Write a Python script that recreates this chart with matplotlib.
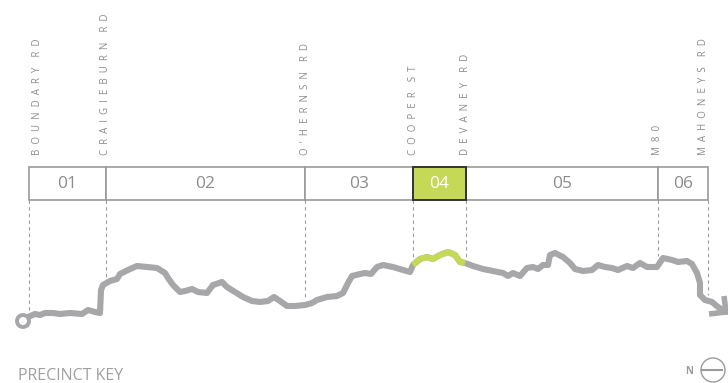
import matplotlib.pyplot as plt
from matplotlib.patches import Rectangle, Circle

# road names and their position along the corridor (pixels)
roads = ["BOUNDARY RD", "CRAIGIEBURN RD", "O'HERNSN RD", "COOPER ST",
         "DEVANEY RD", "M80", "MAHONEYS RD"]
road_x = [29, 106, 305, 413, 466, 658, 708]
dash_end = [314, 279, 299, 258, 258, 256, 295]

precincts = ["01", "02", "03", "04", "05", "06"]
active = "04"

# route trace
route_x = [28, 35, 40, 45, 53, 60, 70, 82, 88, 95, 100, 101, 103, 110, 117, 120,
           128, 137, 147, 157, 165, 168, 173, 180, 185, 192, 198, 207, 213, 222,
           227, 235, 243, 252, 260, 268, 274, 280, 287, 295, 305, 312, 317, 327,
           337, 343, 348, 352, 360, 365, 371, 377, 383, 393, 403, 410, 413, 420,
           427, 433, 440, 448, 455, 460, 465, 473, 483, 493, 503, 508, 513, 520,
           527, 533, 538, 543, 548, 550, 555, 563, 570, 575, 583, 592, 598, 605,
           612, 618, 627, 633, 640, 647, 657, 663, 672, 678, 687, 692, 697, 700,
           700, 705, 712, 718, 726]
route_y = [317, 314, 315, 313, 313, 314, 313, 314, 310, 312, 313, 290, 285, 281,
           279, 274, 270, 266, 267, 268, 273, 278, 285, 292, 291, 289, 292, 293,
           285, 282, 287, 292, 297, 301, 302, 301, 297, 301, 306, 306, 305, 303,
           300, 297, 296, 293, 283, 276, 274, 273, 274, 267, 265, 267, 270, 272,
           265, 259, 257, 259, 255, 252, 255, 262, 263, 266, 269, 271, 273, 276,
           273, 276, 268, 267, 269, 265, 265, 255, 253, 257, 263, 269, 271, 270,
           265, 267, 268, 270, 266, 268, 263, 267, 267, 258, 260, 262, 261, 264,
           273, 283, 295, 300, 302, 307, 312]

grey = "#a7a7a9"
green = "#c6d956"
text_grey = "#8c8c8c"

fig = plt.figure(figsize=(7.28, 3.83), dpi=100)
ax = fig.add_axes([0, 0, 1, 1])
ax.set_xlim(0, 728)
ax.set_ylim(383, 0)
ax.axis("off")

# road labels, letter-spaced and rotated
for i, (name, x) in enumerate(zip(roads, road_x)):
    spaced = "    ".join("  ".join(w) for w in name.split(" "))
    lx = x
    if i == 0:
        lx = x + 8
    elif i == len(roads) - 1:
        lx = x - 5
    ax.text(lx, 155, spaced, rotation=90, ha="center", va="bottom",
            fontsize=7, color=text_grey, family="Open Sans")
    ax.plot([x, x], [200, dash_end[i]], ls=(0, (3, 3)), lw=0.8, color="#9a9a9a")

# precinct boxes
for i, p in enumerate(precincts):
    x0, x1 = road_x[i], road_x[i + 1]
    if p == active:
        continue
    ax.add_patch(Rectangle((x0, 167), x1 - x0, 33, fc="white", ec="#9a9a9a", lw=1.2))
    ax.text((x0 + x1) / 2, 184, p, ha="center", va="center", fontsize=12.5,
            color=text_grey, family="Open Sans")
i = precincts.index(active)
x0, x1 = road_x[i], road_x[i + 1]
ax.add_patch(Rectangle((x0, 167), x1 - x0, 33, fc=green, ec="#333333", lw=1.4, zorder=3))
ax.text((x0 + x1) / 2, 184, active, ha="center", va="center", fontsize=12.5,
        color="white", family="Open Sans", zorder=4)

# route line, active precinct highlighted
a, b = road_x[i], road_x[i + 1]
seg = [j for j, x in enumerate(route_x) if a <= x <= b]
ax.plot(route_x, route_y, color=grey, lw=4.4, solid_capstyle="round",
        solid_joinstyle="round", zorder=2)
ax.plot([route_x[j] for j in seg], [route_y[j] for j in seg], color=green, lw=4.4,
        solid_capstyle="butt", solid_joinstyle="round", zorder=3)
ax.add_patch(Circle((23, 321), 6, fc="white", ec=grey, lw=2.8, zorder=4))
# arrow head at the end of the route
ax.plot([709, route_x[-1], 724], [314, route_y[-1], 296], color=grey, lw=4,
        solid_capstyle="butt", solid_joinstyle="miter", zorder=2)

ax.text(18, 380, "PRECINCT KEY", ha="left", va="baseline", fontsize=11.5,
        color="#a0a0a2", family="Open Sans")

# north symbol
ax.text(689, 371, "N", ha="center", va="center", fontsize=7, color="#9a9a9a",
        family="Open Sans", fontweight="bold")
ax.add_patch(Circle((713, 370), 12, fc="white", ec="#9a9a9a", lw=1))
ax.plot([702, 722], [369.5, 369.5], color="#9a9a9a", lw=1.5)

fig.savefig("out.png", dpi=100)
